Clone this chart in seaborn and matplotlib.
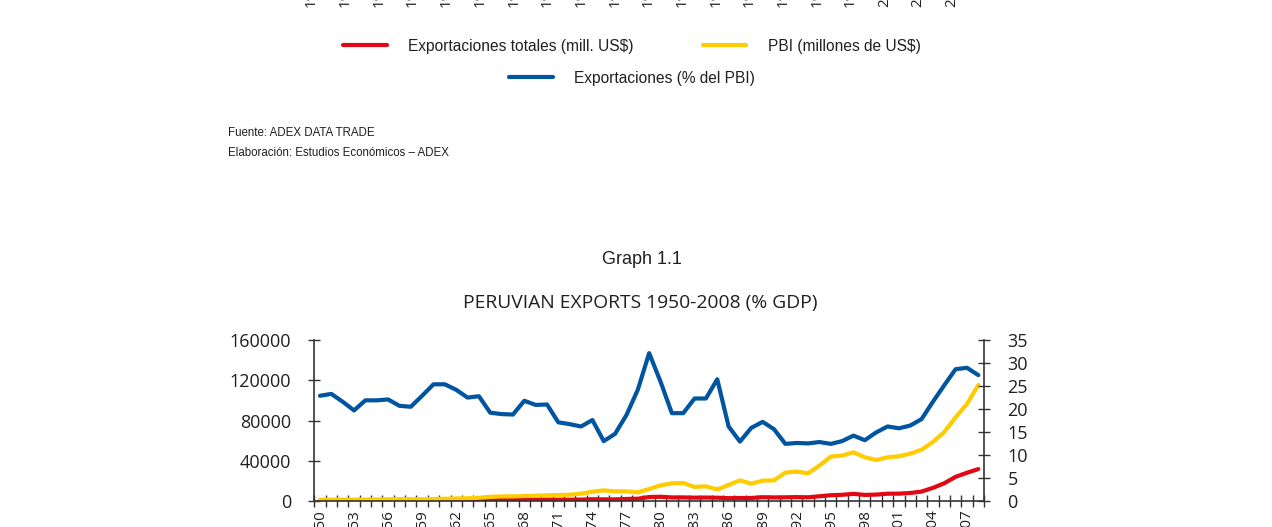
import matplotlib
matplotlib.use('Agg')
import matplotlib.pyplot as plt
import seaborn as sns
import pandas as pd
from matplotlib.ticker import FixedLocator
from matplotlib.font_manager import FontProperties

# ---------------- data ----------------
years = list(range(1950, 2009))
exports_musd = [190, 250, 240, 220, 250, 270, 310, 330, 290, 320,
                430, 500, 540, 540, 670, 670, 760, 760, 870, 880,
                1030, 890, 950, 1110, 1500, 1340, 1340, 1730, 1970, 3680,
                3920, 3250, 3290, 3020, 3150, 2980, 2530, 2660, 2700, 3490,
                3280, 3390, 3580, 3390, 4420, 5490, 5880, 6830, 5760, 6090,
                6960, 7030, 7710, 9090, 12810, 17370, 23830, 27880, 31530]
gdp_musd = [900, 1100, 1150, 1150, 1150, 1250, 1400, 1600, 1450, 1450,
            1700, 1950, 2250, 2400, 2900, 3800, 4300, 4300, 4700, 5000,
            5300, 5700, 6000, 7000, 9000, 10300, 9300, 9300, 8300, 11700,
            15300, 17300, 17700, 13700, 14300, 11300, 15700, 20300, 17000, 20000,
            20300, 28000, 29000, 27300, 35000, 44000, 45000, 48300, 43300, 40600,
            43300, 44300, 46900, 50900, 58600, 68500, 83200, 96500, 115400]
exports_pct_gdp = [22.9, 23.3, 21.6, 19.7, 21.9, 21.9, 22.1, 20.7, 20.5, 22.9,
                   25.4, 25.4, 24.2, 22.5, 22.8, 19.2, 18.9, 18.8, 21.8, 20.9,
                   21.0, 17.1, 16.7, 16.2, 17.6, 13.0, 14.6, 18.7, 24.2, 32.2,
                   26.0, 19.1, 19.1, 22.3, 22.3, 26.5, 16.2, 12.9, 15.9, 17.2,
                   15.6, 12.4, 12.6, 12.5, 12.8, 12.4, 13.0, 14.2, 13.2, 14.9,
                   16.2, 15.8, 16.4, 17.8, 21.6, 25.2, 28.7, 29.0, 27.4]
label_years = [1950, 1953, 1956, 1959, 1962, 1965, 1968, 1971, 1974, 1977,
               1980, 1983, 1986, 1989, 1992, 1995, 1998, 2001, 2004, 2007]
left_ticks = [0, 40000, 80000, 120000, 160000]
right_ticks = [0, 5, 10, 15, 20, 25, 30, 35]

legend_es = ['Exportaciones totales (mill. US$)', 'PBI (millones de US$)',
             'Exportaciones (% del PBI)']
source_lines = ['Fuente: ADEX DATA TRADE',
                'Elaboración: Estudios Económicos – ADEX']
graph_label = 'Graph 1.1'
title_en = 'PERUVIAN EXPORTS 1950-2008 (% GDP)'

df = pd.DataFrame({'year': years, 'exp': exports_musd,
                   'gdp': gdp_musd, 'pct': exports_pct_gdp})

# ---------------- style ----------------
sns.set_theme(style='white')
plt.rcParams['font.family'] = ['Open Sans', 'DejaVu Sans']
NARROW = ['Liberation Sans Narrow', 'Liberation Sans', 'DejaVu Sans']

RED, YEL, BLUE = '#e30613', '#ffcc00', '#0054a0'
AXC = '#333333'
TXT = '#231f20'

W, H = 1272, 527
fig = plt.figure(figsize=(W / 100, H / 100), dpi=100)


def fx(px):
    return px / W


def fy(py):
    return 1 - py / H


def chart(rect, labels):
    ax = fig.add_axes(rect)
    ax2 = ax.twinx()
    sns.lineplot(data=df, x='year', y='exp', ax=ax, color=RED, linewidth=3,
                 label=labels[0], legend=False)
    sns.lineplot(data=df, x='year', y='gdp', ax=ax, color=YEL, linewidth=3,
                 label=labels[1], legend=False)
    sns.lineplot(data=df, x='year', y='pct', ax=ax2, color=BLUE, linewidth=3,
                 label=labels[2], legend=False)
    for a in (ax, ax2):
        a.set_xlabel('')
        a.set_ylabel('')
        if a.get_legend() is not None:
            a.get_legend().remove()
    ax.set_xlim(1949.5, 2008.5)
    ax.set_ylim(0, 160000)
    ax2.set_ylim(0, 35)
    ax.set_yticks(left_ticks)
    ax.set_yticklabels([str(v) for v in left_ticks])
    ax2.set_yticks(right_ticks)
    ax2.set_yticklabels([str(v) for v in right_ticks])
    ax.set_xticks(label_years)
    ax.set_xticklabels([str(y) for y in label_years], rotation=90)
    ax.xaxis.set_minor_locator(FixedLocator([y - 0.5 for y in years] + [2008.5]))
    ax.tick_params(axis='x', which='major', length=0, pad=6, labelsize=11,
                   labelcolor=TXT, bottom=True)
    ax.tick_params(axis='x', which='minor', direction='inout', length=8,
                   width=1, color=AXC, bottom=True)
    ax.tick_params(axis='y', which='major', direction='inout', length=8.6,
                   width=1, color=AXC, pad=12.5, labelsize=13, labelcolor=TXT,
                   left=True)
    ax2.tick_params(axis='y', which='major', direction='inout', length=8.6,
                    width=1, color=AXC, pad=12.5, labelsize=13, labelcolor=TXT,
                    right=True)
    for s in ('top', 'right'):
        ax.spines[s].set_visible(False)
    for s in ('top', 'left', 'bottom'):
        ax2.spines[s].set_visible(False)
    for a, s in ((ax, 'left'), (ax, 'bottom'), (ax2, 'right')):
        a.spines[s].set_color(AXC)
        a.spines[s].set_linewidth(1.2)
    ax.patch.set_alpha(0)
    ax2.patch.set_alpha(0)
    return ax, ax2


# top chart (Spanish), mostly above the visible page: only label ends show
top_ax, top_ax2 = chart([fx(305.9), 1 + 36.3 / H, fx(662.6), 0.3], legend_es)
# bottom chart (English), lower part cut off by the page edge
bot_ax, bot_ax2 = chart([fx(314.3), fy(500.7), fx(984 - 314.3), (500.7 - 340.3) / H],
                        legend_es)

h_red = top_ax.get_lines()[0]
h_yel = top_ax.get_lines()[1]
h_blue = top_ax2.get_lines()[0]

lp = FontProperties(family=NARROW, size=11.2)
common = dict(loc='center', frameon=False, handlelength=2.8, handletextpad=1.37,
              columnspacing=4.45, borderpad=0, borderaxespad=0, prop=lp,
              labelcolor=TXT)
fig.legend([h_red, h_yel], legend_es[:2], ncol=2,
           bbox_to_anchor=(fx(632), fy(46)), **common)
fig.legend([h_blue], legend_es[2:], ncol=1,
           bbox_to_anchor=(fx(632), fy(78)), **common)

fig.text(fx(228), fy(133), source_lines[0], ha='left', va='center',
         fontsize=8.3, family=NARROW, color=TXT)
fig.text(fx(228), fy(153), source_lines[1], ha='left', va='center',
         fontsize=8.3, family=NARROW, color=TXT)
fig.text(fx(642), fy(259), graph_label, ha='center', va='center',
         fontsize=13, family=NARROW, color=TXT)
fig.text(fx(640), fy(303), title_en, ha='center', va='center',
         fontsize=13.9, family=['Open Sans', 'DejaVu Sans'], color=TXT)

fig.savefig('out.png', dpi=100)
